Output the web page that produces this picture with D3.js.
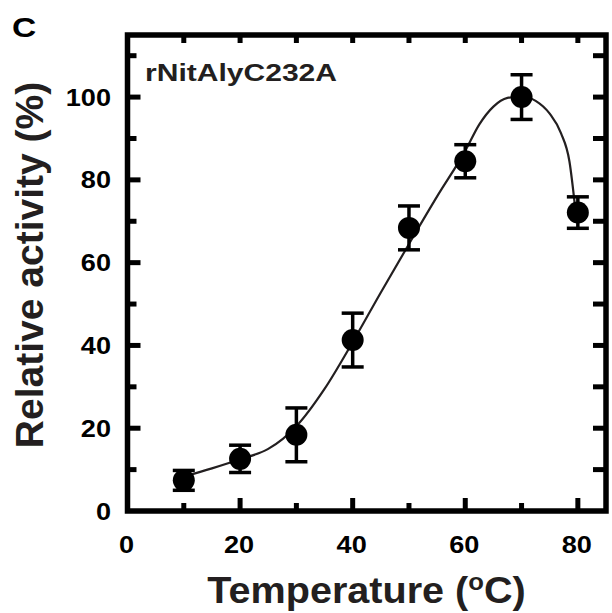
<!DOCTYPE html>
<html>
<head>
<meta charset="utf-8">
<script src="https://cdn.jsdelivr.net/npm/d3@7"></script>
<style>
  body { margin: 0; background: #fff; }
  text { font-family: "Liberation Sans", Arial, Helvetica, sans-serif; font-weight: bold; }
</style>
</head>
<body>
<div id="canvas"></div>
<script>
// measured points
const temps = [10, 20, 30, 40, 50, 60, 70, 80]
const activity = [7.4, 12.6, 18.4, 41.3, 68.4, 84.5, 100, 72.1]
const errors = [2.4, 3.3, 6.5, 6.5, 5.3, 4.0, 5.4, 3.8]

// fitted curve
const fitT = [10, 15, 20, 25, 30, 35, 40, 45, 50, 55, 60, 62.5, 65, 67.5, 70, 72.5, 75, 77, 78.5, 79.6]
const fitY = [8.3, 10.3, 12.5, 15.0, 20.5, 29.5, 40.8, 52.8, 64.5, 76.0, 87.0, 93.4, 97.7, 99.8, 100.2, 99.1, 96.0, 91.3, 84.5, 72.3]

const xTicks = [0, 20, 40, 60, 80]
const yTicks = [0, 20, 40, 60, 80, 100]

const width = 612
const height = 613

const svg = d3.select("#canvas").append("svg")
    .attr("width", width)
    .attr("height", height)

const x = d3.scaleLinear().domain([0, 85]).range([127.5, 606])
const y = d3.scaleLinear().domain([0, 115]).range([511, 35])

const x0 = x(0), x1 = x(85), y0 = y(0), y1 = y(115)

// ticks (inside), every 10
const minorX = d3.range(10, 85, 10)
const minorY = d3.range(10, 115, 10)
const ticks = svg.append("g").attr("stroke", "#000").attr("stroke-width", 5)

ticks.selectAll(".tb").data(minorX).enter().append("line")
    .attr("x1", d => x(d)).attr("x2", d => x(d))
    .attr("y1", y0).attr("y2", d => y0 - (d % 20 === 0 ? 13 : 8))
ticks.selectAll(".tt").data(minorX).enter().append("line")
    .attr("x1", d => x(d)).attr("x2", d => x(d))
    .attr("y1", y1).attr("y2", y1 + 8)
ticks.selectAll(".tl").data(minorY).enter().append("line")
    .attr("y1", d => y(d)).attr("y2", d => y(d))
    .attr("x1", x0).attr("x2", d => x0 + (d % 20 === 0 ? 13 : 9))
ticks.selectAll(".tr").data(minorY).enter().append("line")
    .attr("y1", d => y(d)).attr("y2", d => y(d))
    .attr("x1", x1).attr("x2", x1 - 13)

// frame
svg.append("rect")
    .attr("x", x0).attr("y", y1)
    .attr("width", x1 - x0).attr("height", y0 - y1)
    .attr("fill", "none").attr("stroke", "#000").attr("stroke-width", 5.5)

// tick labels (the original type is a little wider than Arial)
svg.selectAll(".xl").data(xTicks).enter().append("text")
    .attr("transform", d => `translate(${x(d) - 1}, 553) scale(1.13, 1)`)
    .attr("text-anchor", "middle")
    .attr("font-size", 24)
    .text(d => d)

svg.selectAll(".yl").data(yTicks).enter().append("text")
    .attr("transform", d => `translate(111, ${y(d) + 8.5}) scale(1.13, 1)`)
    .attr("text-anchor", "end")
    .attr("font-size", 24)
    .text(d => d)

// fit curve
const line = d3.line()
    .x((d, i) => x(fitT[i]))
    .y(d => y(d))
    .curve(d3.curveMonotoneX)

svg.append("path")
    .datum(fitY)
    .attr("d", line)
    .attr("fill", "none")
    .attr("stroke", "#231f20")
    .attr("stroke-width", 2.2)

// error bars
const pts = temps.map((t, i) => ({ t: t, v: activity[i], e: errors[i] }))
const eb = svg.append("g").attr("stroke", "#000").attr("stroke-width", 3.5)
eb.selectAll(".ev").data(pts).enter().append("line")
    .attr("x1", d => x(d.t)).attr("x2", d => x(d.t))
    .attr("y1", d => y(d.v - d.e)).attr("y2", d => y(d.v + d.e))
eb.selectAll(".eh").data(pts).enter().append("line")
    .attr("x1", d => x(d.t) - 11).attr("x2", d => x(d.t) + 11)
    .attr("y1", d => y(d.v + d.e)).attr("y2", d => y(d.v + d.e))
eb.selectAll(".el").data(pts).enter().append("line")
    .attr("x1", d => x(d.t) - 11).attr("x2", d => x(d.t) + 11)
    .attr("y1", d => y(d.v - d.e)).attr("y2", d => y(d.v - d.e))

svg.selectAll("circle").data(pts).enter().append("circle")
    .attr("cx", d => x(d.t)).attr("cy", d => y(d.v))
    .attr("r", 11)
    .attr("fill", "#000")

// labels
svg.append("text")
    .attr("x", 145).attr("y", 81)
    .attr("font-size", 24)
    .attr("fill", "#231f20")
    .attr("textLength", 192)
    .attr("lengthAdjust", "spacingAndGlyphs")
    .text("rNitAlyC232A")

svg.append("text")
    .attr("transform", "translate(12, 37) scale(1.2, 1)")
    .attr("font-size", 28)
    .text("C")

svg.append("text")
    .attr("transform", "translate(43, 265) rotate(-90)")
    .attr("text-anchor", "middle")
    .attr("font-size", 39)
    .attr("fill", "#231f20")
    .text("Relative activity (%)")

const xt = svg.append("text")
    .attr("transform", "translate(366.5, 603) scale(1.07, 1)")
    .attr("text-anchor", "middle")
    .attr("font-size", 37)
    .attr("fill", "#231f20")
xt.append("tspan").text("Temperature (")
xt.append("tspan").attr("font-size", 24).attr("dy", -13).text("o")
xt.append("tspan").attr("dy", 13).text("C)")
</script>
</body>
</html>
